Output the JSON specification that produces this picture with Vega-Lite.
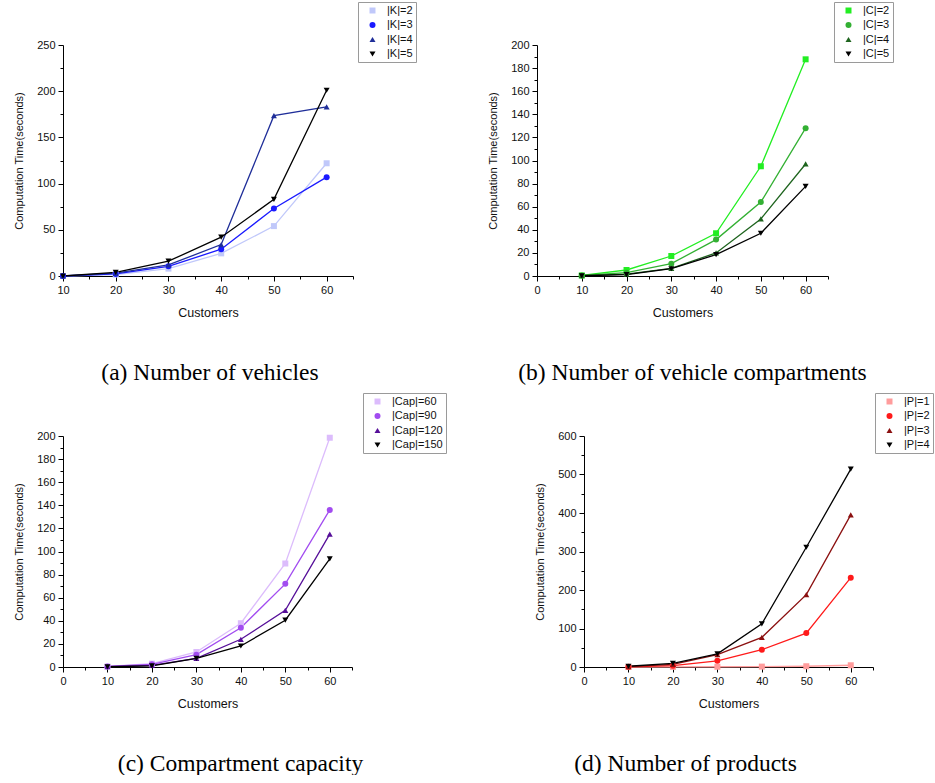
{
  "$schema": "https://vega.github.io/schema/vega-lite/v6.json",
  "padding": {"left": 13, "top": 1, "right": 0, "bottom": 0},
  "background": "white",
  "resolve": {"scale": {"color": "independent", "shape": "independent"}, "legend": {"color": "independent", "shape": "independent"}},
  "datasets": {
    "a": [
      {"series": "|K|=2", "customers": 10, "time": 0},
      {"series": "|K|=2", "customers": 20, "time": 1.5},
      {"series": "|K|=2", "customers": 30, "time": 8},
      {"series": "|K|=2", "customers": 40, "time": 24.5},
      {"series": "|K|=2", "customers": 50, "time": 54},
      {"series": "|K|=2", "customers": 60, "time": 122},
      {"series": "|K|=3", "customers": 10, "time": 0},
      {"series": "|K|=3", "customers": 20, "time": 2.2},
      {"series": "|K|=3", "customers": 30, "time": 10.5},
      {"series": "|K|=3", "customers": 40, "time": 29},
      {"series": "|K|=3", "customers": 50, "time": 73},
      {"series": "|K|=3", "customers": 60, "time": 107},
      {"series": "|K|=4", "customers": 10, "time": 0},
      {"series": "|K|=4", "customers": 20, "time": 3.2},
      {"series": "|K|=4", "customers": 30, "time": 12},
      {"series": "|K|=4", "customers": 40, "time": 34},
      {"series": "|K|=4", "customers": 50, "time": 173.5},
      {"series": "|K|=4", "customers": 60, "time": 183},
      {"series": "|K|=5", "customers": 10, "time": 0},
      {"series": "|K|=5", "customers": 20, "time": 4},
      {"series": "|K|=5", "customers": 30, "time": 16},
      {"series": "|K|=5", "customers": 40, "time": 42},
      {"series": "|K|=5", "customers": 50, "time": 83},
      {"series": "|K|=5", "customers": 60, "time": 201}
    ],
    "b": [
      {"series": "|C|=2", "customers": 10, "time": 0.5},
      {"series": "|C|=2", "customers": 20, "time": 5.2},
      {"series": "|C|=2", "customers": 30, "time": 17.3},
      {"series": "|C|=2", "customers": 40, "time": 37},
      {"series": "|C|=2", "customers": 50, "time": 95},
      {"series": "|C|=2", "customers": 60, "time": 187.6},
      {"series": "|C|=3", "customers": 10, "time": 0.5},
      {"series": "|C|=3", "customers": 20, "time": 2.9},
      {"series": "|C|=3", "customers": 30, "time": 10.7},
      {"series": "|C|=3", "customers": 40, "time": 31.5},
      {"series": "|C|=3", "customers": 50, "time": 64},
      {"series": "|C|=3", "customers": 60, "time": 128},
      {"series": "|C|=4", "customers": 10, "time": 0.3},
      {"series": "|C|=4", "customers": 20, "time": 1.7},
      {"series": "|C|=4", "customers": 30, "time": 6.6},
      {"series": "|C|=4", "customers": 40, "time": 20},
      {"series": "|C|=4", "customers": 50, "time": 49.4},
      {"series": "|C|=4", "customers": 60, "time": 97},
      {"series": "|C|=5", "customers": 10, "time": 0.2},
      {"series": "|C|=5", "customers": 20, "time": 1.2},
      {"series": "|C|=5", "customers": 30, "time": 6.3},
      {"series": "|C|=5", "customers": 40, "time": 18.5},
      {"series": "|C|=5", "customers": 50, "time": 37},
      {"series": "|C|=5", "customers": 60, "time": 77.6}
    ],
    "c": [
      {"series": "|Cap|=60", "customers": 10, "time": 0.5},
      {"series": "|Cap|=60", "customers": 20, "time": 2.9},
      {"series": "|Cap|=60", "customers": 30, "time": 13},
      {"series": "|Cap|=60", "customers": 40, "time": 37.9},
      {"series": "|Cap|=60", "customers": 50, "time": 89.6},
      {"series": "|Cap|=60", "customers": 60, "time": 198.5},
      {"series": "|Cap|=90", "customers": 10, "time": 0.5},
      {"series": "|Cap|=90", "customers": 20, "time": 2.3},
      {"series": "|Cap|=90", "customers": 30, "time": 10.7},
      {"series": "|Cap|=90", "customers": 40, "time": 34},
      {"series": "|Cap|=90", "customers": 50, "time": 72},
      {"series": "|Cap|=90", "customers": 60, "time": 136},
      {"series": "|Cap|=120", "customers": 10, "time": 0.3},
      {"series": "|Cap|=120", "customers": 20, "time": 1.4},
      {"series": "|Cap|=120", "customers": 30, "time": 7.5},
      {"series": "|Cap|=120", "customers": 40, "time": 24},
      {"series": "|Cap|=120", "customers": 50, "time": 49},
      {"series": "|Cap|=120", "customers": 60, "time": 115},
      {"series": "|Cap|=150", "customers": 10, "time": 0.2},
      {"series": "|Cap|=150", "customers": 20, "time": 0.9},
      {"series": "|Cap|=150", "customers": 30, "time": 7.5},
      {"series": "|Cap|=150", "customers": 40, "time": 18.2},
      {"series": "|Cap|=150", "customers": 50, "time": 40.5},
      {"series": "|Cap|=150", "customers": 60, "time": 93.6}
    ],
    "d": [
      {"series": "|P|=1", "customers": 10, "time": 0},
      {"series": "|P|=1", "customers": 20, "time": 0.3},
      {"series": "|P|=1", "customers": 30, "time": 0.6},
      {"series": "|P|=1", "customers": 40, "time": 1},
      {"series": "|P|=1", "customers": 50, "time": 2},
      {"series": "|P|=1", "customers": 60, "time": 4.5},
      {"series": "|P|=2", "customers": 10, "time": 0.5},
      {"series": "|P|=2", "customers": 20, "time": 3.5},
      {"series": "|P|=2", "customers": 30, "time": 16},
      {"series": "|P|=2", "customers": 40, "time": 45},
      {"series": "|P|=2", "customers": 50, "time": 88},
      {"series": "|P|=2", "customers": 60, "time": 232},
      {"series": "|P|=3", "customers": 10, "time": 1},
      {"series": "|P|=3", "customers": 20, "time": 7},
      {"series": "|P|=3", "customers": 30, "time": 32},
      {"series": "|P|=3", "customers": 40, "time": 77},
      {"series": "|P|=3", "customers": 50, "time": 188},
      {"series": "|P|=3", "customers": 60, "time": 395},
      {"series": "|P|=4", "customers": 10, "time": 2},
      {"series": "|P|=4", "customers": 20, "time": 9.5},
      {"series": "|P|=4", "customers": 30, "time": 34},
      {"series": "|P|=4", "customers": 40, "time": 112},
      {"series": "|P|=4", "customers": 50, "time": 311},
      {"series": "|P|=4", "customers": 60, "time": 514}
    ]
  },
  "spacing": 8,
  "vconcat": [
    {
      "spacing": 70,
      "resolve": {"scale": {"color": "independent", "shape": "independent"}, "legend": {"color": "independent", "shape": "independent"}},
      "hconcat": [
        {
          "width": 290, "height": 231,
          "data": {"name": "a"},
          "title": {"text": "(a) Number of vehicles", "dx": 2},
          "encoding": {
            "x": {"field": "customers", "type": "quantitative", "title": "Customers",
              "scale": {"domain": [10, 65], "nice": false, "zero": false},
              "axis": {"values": [10, 15, 20, 25, 30, 35, 40, 45, 50, 55, 60, 65],
                "labelExpr": "datum.value % 10 === 0 ? datum.label : ''",
                "tickSize": {"condition": {"test": "datum.value % 10 === 0", "value": 5}, "value": 3}}},
            "y": {"field": "time", "type": "quantitative", "title": "Computation Time(seconds)",
              "scale": {"domain": [0, 250], "nice": false},
              "axis": {"values": [0, 25, 50, 75, 100, 125, 150, 175, 200, 225, 250],
                "labelExpr": "datum.value % 50 === 0 ? datum.label : ''",
                "tickSize": {"condition": {"test": "datum.value % 50 === 0", "value": 5}, "value": 3}}},
            "color": {"field": "series", "type": "nominal",
              "scale": {"domain": ["|K|=2", "|K|=3", "|K|=4", "|K|=5"], "range": ["#c0c8fa", "#1a1aff", "#1f2e99", "#000000"]}}
          },
          "layer": [
            {"mark": {"type": "line", "strokeWidth": 1.3}},
            {"mark": {"type": "point", "filled": true, "opacity": 1, "size": 36},
              "encoding": {
                "shape": {"field": "series", "type": "nominal", "legend": null,
                  "scale": {"domain": ["|K|=2", "|K|=3", "|K|=4", "|K|=5"], "range": ["square", "circle", "triangle-up", "triangle-down"]}},
                "color": {"field": "series", "type": "nominal", "legend": {"orient": "none", "legendX": 295, "legendY": -43}}
              }}
          ]
        },
        {
          "width": 291, "height": 231,
          "data": {"name": "b"},
          "title": {"text": "(b) Number of vehicle compartments", "dx": 10},
          "encoding": {
            "x": {"field": "customers", "type": "quantitative", "title": "Customers",
              "scale": {"domain": [0, 65], "nice": false},
              "axis": {"values": [0, 5, 10, 15, 20, 25, 30, 35, 40, 45, 50, 55, 60, 65],
                "labelExpr": "datum.value % 10 === 0 ? datum.label : ''",
                "tickSize": {"condition": {"test": "datum.value % 10 === 0", "value": 5}, "value": 3}}},
            "y": {"field": "time", "type": "quantitative", "title": "Computation Time(seconds)",
              "scale": {"domain": [0, 200], "nice": false},
              "axis": {"values": [0, 10, 20, 30, 40, 50, 60, 70, 80, 90, 100, 110, 120, 130, 140, 150, 160, 170, 180, 190, 200],
                "labelExpr": "datum.value % 20 === 0 ? datum.label : ''",
                "tickSize": {"condition": {"test": "datum.value % 20 === 0", "value": 5}, "value": 3}}},
            "color": {"field": "series", "type": "nominal",
              "scale": {"domain": ["|C|=2", "|C|=3", "|C|=4", "|C|=5"], "range": ["#22ee22", "#33b033", "#1e641e", "#000000"]}}
          },
          "layer": [
            {"mark": {"type": "line", "strokeWidth": 1.3}},
            {"mark": {"type": "point", "filled": true, "opacity": 1, "size": 36},
              "encoding": {
                "shape": {"field": "series", "type": "nominal", "legend": null,
                  "scale": {"domain": ["|C|=2", "|C|=3", "|C|=4", "|C|=5"], "range": ["square", "circle", "triangle-up", "triangle-down"]}},
                "color": {"field": "series", "type": "nominal", "legend": {"orient": "none", "legendX": 297, "legendY": -43}}
              }}
          ]
        }
      ]
    },
    {
      "spacing": 87,
      "resolve": {"scale": {"color": "independent", "shape": "independent"}, "legend": {"color": "independent", "shape": "independent"}},
      "hconcat": [
        {
          "width": 289, "height": 231,
          "data": {"name": "c"},
          "title": {"text": "(c) Compartment capacity", "dx": 33},
          "encoding": {
            "x": {"field": "customers", "type": "quantitative", "title": "Customers",
              "scale": {"domain": [0, 65], "nice": false},
              "axis": {"values": [0, 5, 10, 15, 20, 25, 30, 35, 40, 45, 50, 55, 60, 65],
                "labelExpr": "datum.value % 10 === 0 ? datum.label : ''",
                "tickSize": {"condition": {"test": "datum.value % 10 === 0", "value": 5}, "value": 3}}},
            "y": {"field": "time", "type": "quantitative", "title": "Computation Time(seconds)",
              "scale": {"domain": [0, 200], "nice": false},
              "axis": {"values": [0, 10, 20, 30, 40, 50, 60, 70, 80, 90, 100, 110, 120, 130, 140, 150, 160, 170, 180, 190, 200],
                "labelExpr": "datum.value % 20 === 0 ? datum.label : ''",
                "tickSize": {"condition": {"test": "datum.value % 20 === 0", "value": 5}, "value": 3}}},
            "color": {"field": "series", "type": "nominal",
              "scale": {"domain": ["|Cap|=60", "|Cap|=90", "|Cap|=120", "|Cap|=150"], "range": ["#dcbcfc", "#a24cf0", "#560f99", "#000000"]}}
          },
          "layer": [
            {"mark": {"type": "line", "strokeWidth": 1.3}},
            {"mark": {"type": "point", "filled": true, "opacity": 1, "size": 36},
              "encoding": {
                "shape": {"field": "series", "type": "nominal", "legend": null,
                  "scale": {"domain": ["|Cap|=60", "|Cap|=90", "|Cap|=120", "|Cap|=150"], "range": ["square", "circle", "triangle-up", "triangle-down"]}},
                "color": {"field": "series", "type": "nominal", "legend": {"orient": "none", "legendX": 300, "legendY": -43}}
              }}
          ]
        },
        {
          "width": 289, "height": 231,
          "data": {"name": "d"},
          "title": {"text": "(d) Number of products", "dx": -43},
          "encoding": {
            "x": {"field": "customers", "type": "quantitative", "title": "Customers",
              "scale": {"domain": [0, 65], "nice": false},
              "axis": {"values": [0, 5, 10, 15, 20, 25, 30, 35, 40, 45, 50, 55, 60, 65],
                "labelExpr": "datum.value % 10 === 0 ? datum.label : ''",
                "tickSize": {"condition": {"test": "datum.value % 10 === 0", "value": 5}, "value": 3}}},
            "y": {"field": "time", "type": "quantitative", "title": "Computation Time(seconds)",
              "scale": {"domain": [0, 600], "nice": false},
              "axis": {"values": [0, 50, 100, 150, 200, 250, 300, 350, 400, 450, 500, 550, 600],
                "labelExpr": "datum.value % 100 === 0 ? datum.label : ''",
                "tickSize": {"condition": {"test": "datum.value % 100 === 0", "value": 5}, "value": 3}}},
            "color": {"field": "series", "type": "nominal",
              "scale": {"domain": ["|P|=1", "|P|=2", "|P|=3", "|P|=4"], "range": ["#ff9c9c", "#ff1a1a", "#8b1010", "#000000"]}}
          },
          "layer": [
            {"mark": {"type": "line", "strokeWidth": 1.3}},
            {"mark": {"type": "point", "filled": true, "opacity": 1, "size": 36},
              "encoding": {
                "shape": {"field": "series", "type": "nominal", "legend": null,
                  "scale": {"domain": ["|P|=1", "|P|=2", "|P|=3", "|P|=4"], "range": ["square", "circle", "triangle-up", "triangle-down"]}},
                "color": {"field": "series", "type": "nominal", "legend": {"orient": "none", "legendX": 291, "legendY": -43}}
              }}
          ]
        }
      ]
    }
  ],
  "config": {
    "view": {"stroke": null},
    "font": "Liberation Sans",
    "axis": {
      "grid": false,
      "domainColor": "#000000",
      "domainWidth": 1,
      "tickColor": "#000000",
      "tickWidth": 1,
      "labelColor": "#111111",
      "labelFont": "Liberation Sans",
      "labelFontSize": 11,
      "labelOverlap": false,
      "labelFlush": false,
      "labelPadding": 3,
      "titleColor": "#111111",
      "titleFont": "Liberation Sans",
      "titleFontWeight": "normal"
    },
    "axisX": {"titleFontSize": 12.5, "titlePadding": 11},
    "axisY": {"titleFontSize": 11, "titlePadding": 12},
    "legend": {
      "orient": "none",
      "legendX": 297,
      "legendY": -43,
      "title": null,
      "strokeColor": "#9a9a9a",
      "fillColor": "#ffffff",
      "padding": 3,
      "labelFont": "Liberation Sans",
      "labelFontSize": 11,
      "labelColor": "#111111",
      "symbolSize": 36,
      "symbolOffset": 6,
      "labelOffset": 9,
      "rowPadding": 2.5,
      "symbolStrokeWidth": 0,
      "symbolOpacity": 1
    },
    "title": {
      "orient": "bottom",
      "frame": "group",
      "anchor": "middle",
      "font": "Liberation Serif",
      "fontSize": 23.5,
      "fontWeight": "normal",
      "color": "#000000",
      "offset": 42
    }
  }
}
